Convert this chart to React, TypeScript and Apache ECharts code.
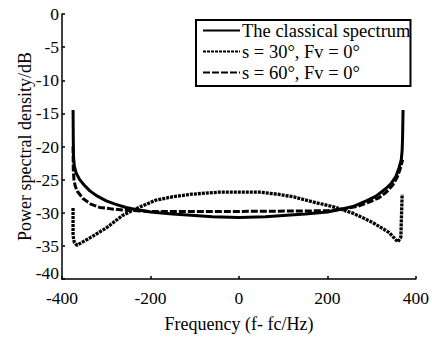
import React, { useEffect, useRef } from "react";
import * as echarts from "echarts";

const xTicks = [-400, -200, 0, 200, 400];
const yTicks = [0, -5, -10, -15, -20, -25, -30, -35, -40];

const seriesNames = ["The classical spectrum", "s = 30°, Fv = 0°", "s = 60°, Fv = 0°"];

const classicalFreq = [-375, -374.5, -374, -372, -368, -360, -350, -337, -320, -300, -280, -255, -226, -200, -150, -100, -60, 0, 60, 100, 150, 200, 236, 260, 288, 310, 333, 345, 355, 362, 367, 369, 370, 371];
const classicalPsd = [-14.5, -19, -21.5, -23, -24, -25, -25.8, -26.7, -27.5, -28.2, -28.7, -29.2, -29.6, -29.9, -30.2, -30.4, -30.6, -30.7, -30.6, -30.4, -30.2, -29.9, -29.4, -29.0, -28.2, -27.5, -26.3, -25.5, -24.5, -23.2, -22, -20.5, -18.5, -14.5];

const s30Freq = [-375, -375, -372, -366, -337, -300, -263, -233, -188, -151, -107, -47, -2, 50, 87, 124, 169, 214, 259, 303, 340, 359, 366, 369];
const s30Psd = [-29.3, -33.5, -34.5, -34.9, -33.8, -32.3, -30.4, -29.4, -28.1, -27.6, -27.2, -26.9, -26.9, -26.9, -27.2, -27.6, -28.4, -29.1, -30.1, -31.5, -33.0, -34.4, -33.7, -27.2];

const s60Freq = [-375, -374.5, -373, -370, -365, -352, -335, -315, -290, -263, -230, -200, 0, 200, 240, 270, 290, 315, 333, 348, 358, 364, 368, 370];
const s60Psd = [-20, -23.5, -25, -26, -26.8, -27.9, -28.7, -29.2, -29.4, -29.6, -29.7, -29.8, -29.8, -29.7, -29.4, -29.0, -28.5, -27.8, -26.9, -25.8, -24.6, -23.5, -22.5, -22.0];

const zip = (a: number[], b: number[]) => a.map((v, i) => [v, b[i]]);

const FONT = "Liberation Serif";

export default function App() {
  const ref = useRef<HTMLDivElement>(null);
  useEffect(() => {
    const chart = echarts.init(ref.current!, null, { renderer: "svg" });
    const lineCommon = { type: "line", showSymbol: false, symbol: "none", smooth: false, z: 3 };
    const axisLine = { show: true, onZero: false, lineStyle: { color: "#000", width: 1.5 } };
    const axisTick = { show: true, inside: true, length: 3, lineStyle: { color: "#000", width: 1.5 } };
    chart.setOption({
      animation: false,
      backgroundColor: "#fff",
      grid: { left: 62, right: 12, top: 14, bottom: 50, containLabel: false },
      legend: {
        orient: "vertical",
        left: 196,
        top: 20,
        data: seriesNames,
        backgroundColor: "#fff",
        borderColor: "#000",
        borderWidth: 2,
        padding: [1, 0, 4, 6],
        itemGap: 2,
        itemWidth: 37,
        itemHeight: 15,
        selectedMode: false,
        itemStyle: { opacity: 0 },
        textStyle: { fontFamily: FONT, fontSize: 18.5, lineHeight: 19, color: "#000", padding: [0, 0, 0, -3] },
      },
      xAxis: {
        type: "value",
        min: -400,
        max: 400,
        interval: 200,
        name: "Frequency (f- fc/Hz)",
        nameLocation: "middle",
        nameGap: 36,
        nameTextStyle: { fontFamily: FONT, fontSize: 18, color: "#000" },
        axisLine,
        axisTick,
        axisLabel: { fontFamily: FONT, fontSize: 17.5, color: "#000", margin: 10, formatter: (v: number) => (xTicks.includes(v) ? String(v) : "") },
        splitLine: { show: false },
      },
      yAxis: {
        type: "value",
        min: -40,
        max: 0,
        interval: 5,
        name: "Power spectral density/dB",
        nameLocation: "middle",
        nameGap: 28,
        nameMoveOverlap: false,
        nameTextStyle: { fontFamily: FONT, fontSize: 18, color: "#000" },
        axisLine,
        axisTick,
        axisLabel: {
          fontFamily: FONT,
          fontSize: 17.5,
          color: "#000",
          margin: 3,
          formatter: (v: number) => (v === -40 ? "{low|-40}" : yTicks.includes(v) ? String(v) : ""),
          rich: { low: { fontFamily: FONT, fontSize: 17.5, color: "#000", padding: [0, 0, 13, 0] } },
        },
        splitLine: { show: false },
      },
      series: [
        { ...lineCommon, name: seriesNames[0], data: zip(classicalFreq, classicalPsd), lineStyle: { color: "#000", width: 3, type: "solid" }, itemStyle: { color: "#000" } },
        { ...lineCommon, name: seriesNames[1], data: zip(s30Freq, s30Psd), lineStyle: { color: "#000", width: 3.3, type: [3, 1] }, itemStyle: { color: "#000" } },
        { ...lineCommon, name: seriesNames[2], data: zip(s60Freq, s60Psd), lineStyle: { color: "#000", width: 3, type: [7, 2] }, itemStyle: { color: "#000" } },
      ],
    });
    return () => chart.dispose();
  }, []);
  return <div ref={ref} style={{ position: "fixed", left: 0, top: 0, width: 432, height: 338, background: "#fff" }} />;
}
